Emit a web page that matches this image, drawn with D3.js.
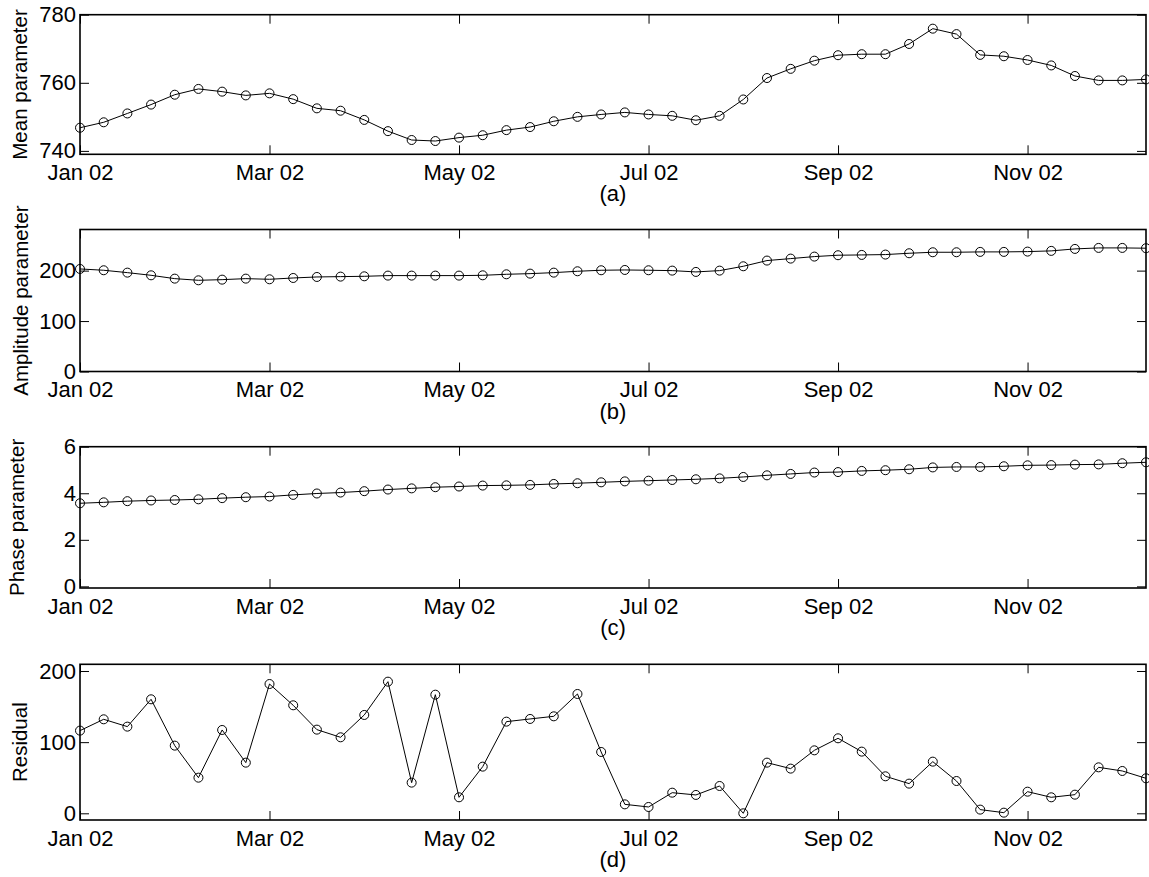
<!DOCTYPE html>
<html><head><meta charset="utf-8">
<script src="https://cdn.jsdelivr.net/npm/d3@7"></script>
<style>
body{margin:0;background:#fff}
svg{display:block}
text{font-family:"Liberation Sans",Arial,Helvetica,sans-serif;fill:#000}
</style>
</head><body>
<svg id="chart" width="1149" height="877"></svg>
<script>
// ---- data ----
const periods = [0,1,2,3,4,5,6,7,8,9,10,11,12,13,14,15,16,17,18,19,20,21,22,23,24,25,26,27,28,29,30,31,32,33,34,35,36,37,38,39,40,41,42,43,44,45];
const xTickPositions = [0,8,16,24,32,40];
const xTickLabels = ["Jan 02","Mar 02","May 02","Jul 02","Sep 02","Nov 02"];

const meanParam = [746.8,748.4,751.0,753.6,756.5,758.2,757.4,756.3,756.9,755.2,752.5,751.8,749.1,745.8,743.2,742.9,743.9,744.6,746.1,747.0,748.7,750.0,750.7,751.3,750.7,750.3,749.0,750.3,755.1,761.4,764.1,766.5,768.1,768.4,768.4,771.4,775.9,774.3,768.2,767.8,766.7,765.1,762.0,760.7,760.7,761.0];
const amplitudeParam = [203.3,200.7,196.0,190.7,184.1,180.8,182.1,184.1,182.8,185.4,187.4,188.1,188.7,190.1,190.1,190.1,190.1,190.7,192.7,194.0,196.0,198.7,200.7,201.3,200.7,200.0,197.4,200.0,208.6,219.9,223.8,227.8,230.5,231.1,231.8,234.4,236.4,236.4,237.1,237.1,237.7,239.1,243.0,245.0,245.0,244.4];
const phaseParam = [3.57,3.61,3.66,3.69,3.71,3.74,3.79,3.83,3.86,3.93,3.99,4.03,4.09,4.16,4.21,4.26,4.29,4.33,4.34,4.36,4.40,4.43,4.47,4.51,4.54,4.57,4.60,4.64,4.70,4.77,4.83,4.89,4.91,4.96,4.99,5.03,5.11,5.13,5.13,5.16,5.20,5.21,5.23,5.24,5.29,5.33];
const residual = [116.2,132.1,121.8,160.2,95.1,50.1,117.1,71.2,181.7,151.8,117.6,106.8,138.2,185.0,43.1,166.7,22.5,65.6,128.8,132.6,136.3,167.7,86.2,12.6,8.9,29.0,25.8,38.4,0.0,71.2,62.8,88.5,105.4,86.7,52.0,41.7,72.6,45.4,5.2,0.9,30.4,22.5,26.2,64.6,59.5,49.2];

const yTitles = ["Mean parameter","Amplitude parameter","Phase parameter","Residual"];
const panelLabels = ["(a)","(b)","(c)","(d)"];
const yTicksA = [740,760,780];
const yTicksB = [0,100,200];
const yTicksC = [0,2,4,6];
const yTicksD = [0,100,200];
const yDomainA = [739,780];
const yDomainB = [0,281.5];
const yDomainC = [-0.07,6];
const yDomainD = [-9.4,209.4];

// ---- layout ----
const left = 80, right = 1146;
const panels = [
  {values: meanParam, ticks: yTicksA, domain: yDomainA, top: 14.7, bottom: 154.3, titleX: 20, title: yTitles[0], label: panelLabels[0]},
  {values: amplitudeParam, ticks: yTicksB, domain: yDomainB, top: 229.5, bottom: 371.5, titleX: 21, title: yTitles[1], label: panelLabels[1]},
  {values: phaseParam, ticks: yTicksC, domain: yDomainC, top: 446.7, bottom: 588, titleX: 17, title: yTitles[2], label: panelLabels[2]},
  {values: residual, ticks: yTicksD, domain: yDomainD, top: 664.3, bottom: 820, titleX: 20, title: yTitles[3], label: panelLabels[3]}
];

const svg = d3.select("#chart");
const x = d3.scaleLinear().domain([periods[0], periods[periods.length-1]]).range([left, right]);
const tickLen = 9;

panels.forEach(p => {
  const y = d3.scaleLinear().domain(p.domain).range([p.bottom, p.top]);
  const g = svg.append("g");

  const ax = [
    g.append("g").attr("transform", `translate(${left},0)`)
      .call(d3.axisLeft(y).tickValues(p.ticks).tickSize(-tickLen).tickPadding(4).tickFormat(d3.format("d"))),
    g.append("g").attr("transform", `translate(${right},0)`)
      .call(d3.axisRight(y).tickValues(p.ticks).tickSize(-tickLen).tickFormat("")),
    g.append("g").attr("transform", `translate(0,${p.bottom})`)
      .call(d3.axisBottom(x).tickValues(xTickPositions).tickSize(-tickLen).tickPadding(10)
        .tickFormat((d,i) => xTickLabels[i])),
    g.append("g").attr("transform", `translate(0,${p.top})`)
      .call(d3.axisTop(x).tickValues(xTickPositions).tickSize(-tickLen).tickFormat(""))
  ];
  ax.forEach(a => {
    a.select(".domain").remove();
    a.selectAll(".tick line").attr("stroke", "#000").attr("stroke-width", 1);
    a.selectAll(".tick text").attr("font-size", 22).attr("font-family", '"Liberation Sans",Arial,Helvetica,sans-serif').attr("fill", "#000");
  });

  g.append("rect")
    .attr("x", left).attr("y", p.top)
    .attr("width", right - left).attr("height", p.bottom - p.top)
    .attr("fill", "none").attr("stroke", "#000").attr("stroke-width", 1.6);

  const line = d3.line().x((d,i) => x(periods[i])).y(d => y(d));
  g.append("path").datum(p.values)
    .attr("d", line).attr("fill", "none").attr("stroke", "#000").attr("stroke-width", 1);

  g.selectAll("circle.m").data(p.values).enter().append("circle")
    .attr("class", "m")
    .attr("cx", (d,i) => x(periods[i])).attr("cy", d => y(d))
    .attr("r", 4.5).attr("fill", "none").attr("stroke", "#000").attr("stroke-width", 1);

  g.append("text")
    .attr("transform", `translate(${p.titleX},${(p.top + p.bottom)/2}) rotate(-90)`)
    .attr("text-anchor", "middle").attr("dy", "0.35em")
    .attr("font-size", 20.5).text(p.title);

  g.append("text")
    .attr("x", (left + right)/2).attr("y", p.bottom + 47)
    .attr("text-anchor", "middle").attr("font-size", 22).text(p.label);
});
</script>
</body></html>
